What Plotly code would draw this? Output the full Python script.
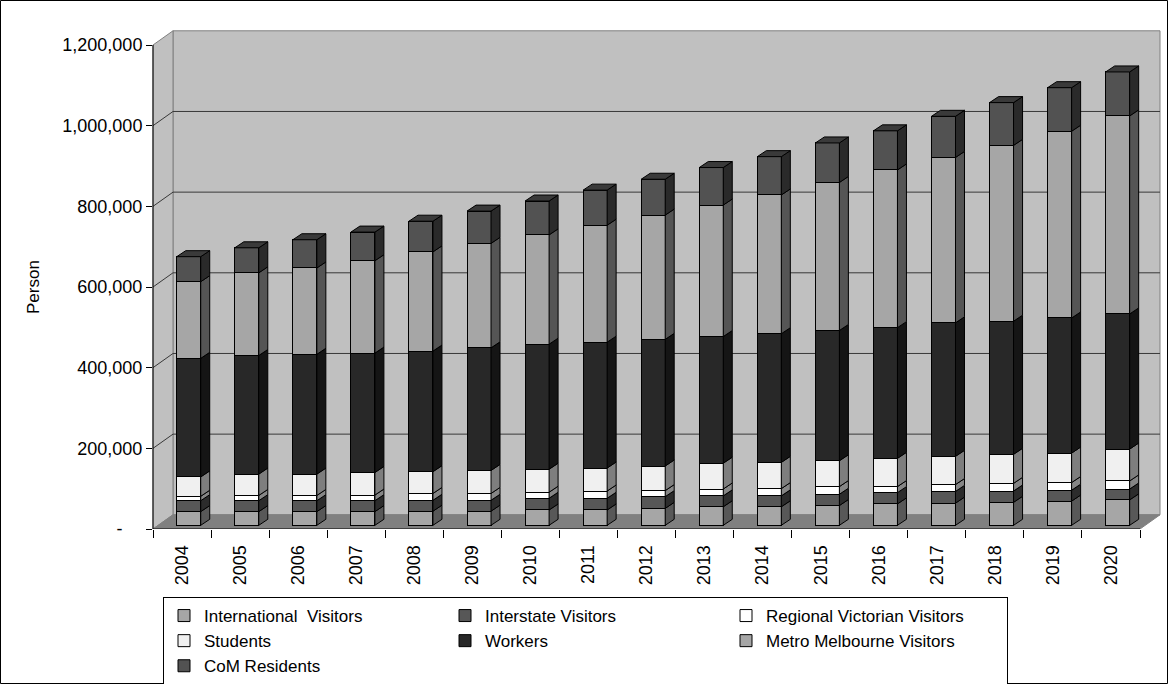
import plotly.graph_objects as go

# ---------------------------------------------------------------- data
years = ["2004", "2005", "2006", "2007", "2008", "2009", "2010", "2011", "2012",
         "2013", "2014", "2015", "2016", "2017", "2018", "2019", "2020"]

international_visitors = [34000, 34000, 34000, 34000, 35000, 35000, 38000, 38000, 42000,
                          46000, 46000, 49000, 53000, 55000, 57000, 60000, 63000]
interstate_visitors = [27000, 27000, 27000, 27000, 27000, 27000, 29000, 29000, 29000,
                       27000, 27000, 28000, 28000, 29000, 28000, 27000, 27000]
regional_victorian_visitors = [11000, 13000, 13000, 14000, 17000, 17000, 15000, 18000, 15000,
                               17000, 18000, 19000, 15000, 17000, 19000, 19000, 20000]
students = [48000, 53000, 53000, 56000, 54000, 57000, 57000, 57000, 61000,
            64000, 65000, 64000, 70000, 70000, 72000, 73000, 79000]
workers = [294000, 294000, 297000, 296000, 299000, 304000, 310000, 312000, 314000,
           314000, 319000, 323000, 324000, 331000, 330000, 335000, 335000]
metro_melbourne_visitors = [190000, 205000, 214000, 229000, 246000, 259000, 271000, 290000, 308000,
                            326000, 344000, 367000, 391000, 410000, 436000, 463000, 491000]
com_residents = [62000, 62000, 70000, 71000, 76000, 80000, 84000, 87000, 89000,
                 93000, 95000, 98000, 97000, 102000, 106000, 108000, 109000]

series_names = ["International  Visitors", "Interstate Visitors", "Regional Victorian Visitors",
                "Students", "Workers", "Metro Melbourne Visitors", "CoM Residents"]
series_values = [international_visitors, interstate_visitors, regional_victorian_visitors,
                 students, workers, metro_melbourne_visitors, com_residents]

y_tick_values = [0, 200000, 400000, 600000, 800000, 1000000, 1200000]
y_tick_labels = ["-\u00a0\u00a0\u00a0\u00a0", "200,000", "400,000", "600,000", "800,000",
                 "1,000,000", "1,200,000"]

# ---------------------------------------------------------------- styling
face_colors = ["#A6A6A6", "#575757", "#FFFFFF", "#F0F0F0", "#282828", "#A6A6A6", "#525252"]
side_colors = ["#585858", "#2C2C2C", "#868686", "#7E7E7E", "#151515", "#555555", "#2A2A2A"]
top_color = "#3A3A3A"
FONT = "Liberation Sans, Arial, sans-serif"

# pixel geometry of the oblique box
FIG_W, FIG_H = 1168, 684
L, R, T, B = 153, 1160, 30, 529          # plot-area edges
FRONT_RIGHT = 1140                         # right end of the front floor edge
WALL_DX, WALL_DY = 20, 14.2                # depth of the box (back wall offset)
VAL_PER_PX = 1_200_000 / 484
N = len(years)
CAT_PX = (FRONT_RIGHT - L) / N

BAR_LIFT = 3.7 * VAL_PER_PX                # bars stand a little behind the front edge
BAR_SHIFT = 6.7 / CAT_PX
BAR_W = 24 / CAT_PX
DEPTH_X = 9 / CAT_PX                       # depth of each column
DEPTH_Y = 6 * VAL_PER_PX

y_top = (B - T) * VAL_PER_PX
x_lo = -0.5
x_hi = x_lo + (R - L) / CAT_PX


def px_x(p):
    return (p - L) / (R - L)


def px_y(p):
    return (B - p) / (B - T)


wall_dx = px_x(L + WALL_DX)
wall_dy = WALL_DY * VAL_PER_PX
front_right = px_x(FRONT_RIGHT)
y_max = y_tick_values[-1]

fig = go.Figure()

# front faces of the stacked columns
positions = list(range(N))
for name, vals, face in zip(series_names, series_values, face_colors):
    fig.add_trace(go.Bar(
        x=positions, y=vals, name=name, width=BAR_W,
        xaxis="x2", yaxis="y2",
        marker=dict(color=face, line=dict(color="black", width=1)),
        hovertemplate="%{y:,}<extra>" + name + "</extra>",
    ))

# right-hand side faces of every segment, and the lid of each column
base = [0] * N
for k, (vals, side) in enumerate(zip(series_values, side_colors)):
    xs, ys = [], []
    for i, v in enumerate(vals):
        b0, b1 = base[i], base[i] + v
        xr = i + BAR_W / 2
        xs += [xr, xr + DEPTH_X, xr + DEPTH_X, xr, xr, None]
        ys += [b0, b0 + DEPTH_Y, b1 + DEPTH_Y, b1, b0, None]
        base[i] = b1
    fig.add_trace(go.Scatter(
        x=xs, y=ys, xaxis="x2", yaxis="y2", mode="lines", fill="toself",
        fillcolor=side, line=dict(color="black", width=1),
        hoverinfo="skip", showlegend=False,
    ))

xs, ys = [], []
for i, total in enumerate(base):
    xl, xr = i - BAR_W / 2, i + BAR_W / 2
    xs += [xl, xl + DEPTH_X, xr + DEPTH_X, xr, xl, None]
    ys += [total, total + DEPTH_Y, total + DEPTH_Y, total, total, None]
fig.add_trace(go.Scatter(
    x=xs, y=ys, xaxis="x2", yaxis="y2", mode="lines", fill="toself",
    fillcolor=top_color, line=dict(color="black", width=1),
    hoverinfo="skip", showlegend=False,
))

# walls, floor and gridlines of the box
shapes = [
    dict(type="rect", xref="paper", yref="y", x0=wall_dx, x1=1, y0=wall_dy, y1=y_max + wall_dy,
         fillcolor="#C0C0C0", line=dict(color="#808080", width=1), layer="below"),
    dict(type="path", xref="paper", yref="y",
         path=f"M0,0 L0,{y_max} L{wall_dx},{y_max + wall_dy} L{wall_dx},{wall_dy} Z",
         fillcolor="#C0C0C0", line=dict(color="#808080", width=1), layer="below"),
    dict(type="path", xref="paper", yref="y",
         path=f"M0,0 L{wall_dx},{wall_dy} L1,{wall_dy} L{front_right},0 Z",
         fillcolor="#808080", line=dict(color="#808080", width=1), layer="below"),
]
for v in y_tick_values[1:-1]:
    shapes.append(dict(type="path", xref="paper", yref="y",
                       path=f"M0,{v} L{wall_dx},{v + wall_dy} L1,{v + wall_dy}",
                       line=dict(color="#383838", width=1), layer="below"))
# front edges carrying the axes
shapes.append(dict(type="line", xref="paper", yref="y", x0=0, x1=0, y0=0, y1=y_max,
                   line=dict(color="black", width=1)))
shapes.append(dict(type="line", xref="paper", yref="y", x0=0, x1=front_right, y0=0, y1=0,
                   line=dict(color="black", width=1)))
# chart-area frame
shapes.append(dict(type="rect", xref="paper", yref="paper",
                   x0=px_x(0.5), x1=px_x(FIG_W - 0.5), y0=px_y(FIG_H - 0.5), y1=px_y(0.5),
                   line=dict(color="black", width=1), fillcolor="rgba(0,0,0,0)", layer="below"))

fig.update_layout(
    width=FIG_W, height=FIG_H,
    margin=dict(l=L, r=FIG_W - R, t=T, b=FIG_H - B, pad=0, autoexpand=False),
    template="none",
    paper_bgcolor="white", plot_bgcolor="white",
    barmode="stack",
    font=dict(family=FONT, size=18, color="black"),
    shapes=shapes,
    xaxis=dict(range=[x_lo, x_hi], tickmode="array", tickvals=positions, ticktext=years,
               tickangle=-90, ticks="outside", ticklen=8, tickcolor="rgba(0,0,0,0)",
               minor=dict(tick0=-0.5, dtick=1, ticks="outside", ticklen=8,
                          tickcolor="black", tickwidth=1, showgrid=False),
               showgrid=False, zeroline=False, showline=False, automargin=False,
               tickfont=dict(size=18)),
    yaxis=dict(range=[0, y_top], tickmode="array", tickvals=y_tick_values, ticktext=y_tick_labels,
               ticks="outside", ticklen=6, tickcolor="black", tickwidth=1,
               showgrid=False, zeroline=False, showline=False, automargin=False,
               tickfont=dict(size=18)),
    xaxis2=dict(overlaying="x", anchor="y2", range=[x_lo - BAR_SHIFT, x_hi - BAR_SHIFT],
                visible=False),
    yaxis2=dict(overlaying="y", anchor="x2", range=[-BAR_LIFT, y_top - BAR_LIFT],
                visible=False),
    legend=dict(orientation="h", x=px_x(163), y=px_y(597), xanchor="left", yanchor="top",
                bordercolor="black", borderwidth=1, bgcolor="white", traceorder="normal",
                entrywidth=236, entrywidthmode="pixels", itemwidth=30,
                font=dict(size=17, family=FONT), tracegroupgap=0),
    annotations=[dict(text="Person", xref="paper", yref="paper", x=px_x(33), y=px_y(287),
                      textangle=-90, showarrow=False, font=dict(size=17, family=FONT),
                      xanchor="center", yanchor="middle")],
)

fig.write_html("out.html")
